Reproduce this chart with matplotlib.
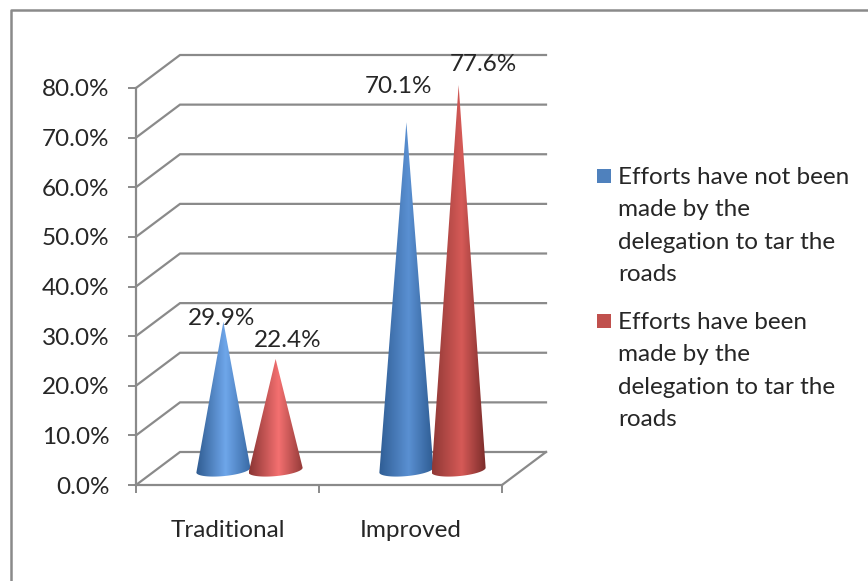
import numpy as np
import matplotlib
matplotlib.use("Agg")
import matplotlib.pyplot as plt
from matplotlib.colors import LinearSegmentedColormap
from matplotlib.patches import Polygon, Rectangle

categories = ["Traditional", "Improved"]
not_made = [29.9, 70.1]
made = [22.4, 77.6]
series_names = [
    "Efforts have not been\nmade by the\ndelegation to tar the\nroads",
    "Efforts have been\nmade by the\ndelegation to tar the\nroads",
]
y_ticks = [0, 10, 20, 30, 40, 50, 60, 70, 80]

W, H = 868, 581
GRAY = "#8a8a8a"
TEXT = "#262626"
FONT = 17.5

plt.rcParams["font.family"] = ["Lato", "DejaVu Sans"]

# shading across each cone, left to right
shades = {
    (0, 0): ["#2f5b90", "#6ea6ea", "#3a6ba6"],
    (0, 1): ["#8a3533", "#f47070", "#933a38"],
    (1, 0): ["#2f5d94", "#5a90d2", "#2f5d94"],
    (1, 1): ["#8f3835", "#d65a57", "#7a2c2a"],
}
label_offsets = {
    (0, 0): (-1, -5),
    (0, 1): (9, 5.6),
    (1, 0): (-5.5, 18.5),
    (1, 1): (17.5, 7.4),
}
legend_colors = ["#4f81bd", "#c0504d"]


def px_axes(x0, y0, x1, y1):
    return [x0 / W, 1 - y1 / H, (x1 - x0) / W, (y1 - y0) / H]


fig = plt.figure(figsize=(W / 100, H / 100), dpi=100)

# outer chart border
fig.add_artist(plt.Line2D([11 / W, 11 / W, 1], [0, 1 - 9.5 / H, 1 - 9.5 / H], color=GRAY, lw=1.8))

ax = fig.add_axes(px_axes(136, 88, 502, 485))
ax.set_xlim(0, 2)
ax.set_ylim(0, 80)
ax.patch.set_alpha(0)

# wall and floor depth, in data units
depth_x = 44 / 183
depth_y = 33 / (397 / 80)

for t in y_ticks:
    ax.plot([0, depth_x, 2 + depth_x], [t, t + depth_y, t + depth_y], color=GRAY, lw=1.6,
            clip_on=False, zorder=1, solid_joinstyle="miter")
ax.plot([2, 2 + depth_x], [0, depth_y], color=GRAY, lw=1.6, clip_on=False, zorder=1)


def draw_cone(center, value, colors, z):
    half_w = 27 / 183
    half_h = 6 / (397 / 80)
    tilt = 2.4 / (397 / 80)
    base_y = 3.0
    t = np.linspace(0, np.pi, 60)
    xs = center + half_w * np.cos(t)
    ys = base_y - half_h * np.sin(t) + tilt * np.cos(t)
    pts = [(center, value + base_y)] + list(zip(xs, ys))
    cmap = LinearSegmentedColormap.from_list("cone", [(0, colors[0]), (0.55, colors[1]), (1, colors[2])])
    grad = np.linspace(0, 1, 256).reshape(1, -1)
    im = ax.imshow(grad, cmap=cmap, aspect="auto", zorder=z, interpolation="bilinear",
                   extent=(center - half_w, center + half_w, base_y - half_h - tilt, value + base_y))
    poly = Polygon(pts, closed=True, transform=ax.transData, fc="none", ec="none")
    ax.add_patch(poly)
    im.set_clip_path(poly)
    im.set_clip_box(fig.bbox)


for i in range(len(categories)):
    for j, values in enumerate([not_made, made]):
        center = i + 0.5 + depth_x / 2 + (j - 0.5) * 0.2855
        draw_cone(center, values[i], shades[(i, j)], 3 + j)
        ax.annotate(f"{values[i]:.1f}%", (center, values[i] + 3.0),
                    xytext=label_offsets[(i, j)], textcoords="offset points",
                    ha="center", va="bottom", fontsize=FONT, color=TEXT, zorder=6,
                    annotation_clip=False)

ax.set_xlim(0, 2)
ax.set_ylim(0, 80)

for side in ["top", "right"]:
    ax.spines[side].set_visible(False)
for side in ["left", "bottom"]:
    ax.spines[side].set_color(GRAY)
    ax.spines[side].set_linewidth(1.6)

ax.set_yticks(y_ticks)
ax.set_yticklabels([f"{t:.1f}%" for t in y_ticks])
ax.set_xticks([0, 1, 2])
ax.set_xticklabels([])
ax.set_xticks([0.5, 1.5], categories, minor=True)
ax.tick_params(axis="y", length=6, width=1.4, color=GRAY, pad=13, labelsize=FONT, labelcolor=TEXT)
ax.tick_params(axis="x", which="major", length=6, width=1.4, color=GRAY)
ax.tick_params(axis="x", which="minor", length=0, pad=25.5, labelsize=FONT, labelcolor=TEXT)

# legend, swatch lined up with the first row of each entry
for k, name in enumerate(series_names):
    top = 167 + 145 * k
    fig.add_artist(Rectangle((597 / W, 1 - (183 + 145 * k) / H), 14 / W, 14 / H, fc=legend_colors[k], ec="none",
                             transform=fig.transFigure))
    fig.text(618 / W, 1 - top / H, name, fontsize=FONT, color=TEXT, va="top", ha="left", linespacing=1.67)

fig.savefig("out.png", dpi=100)
